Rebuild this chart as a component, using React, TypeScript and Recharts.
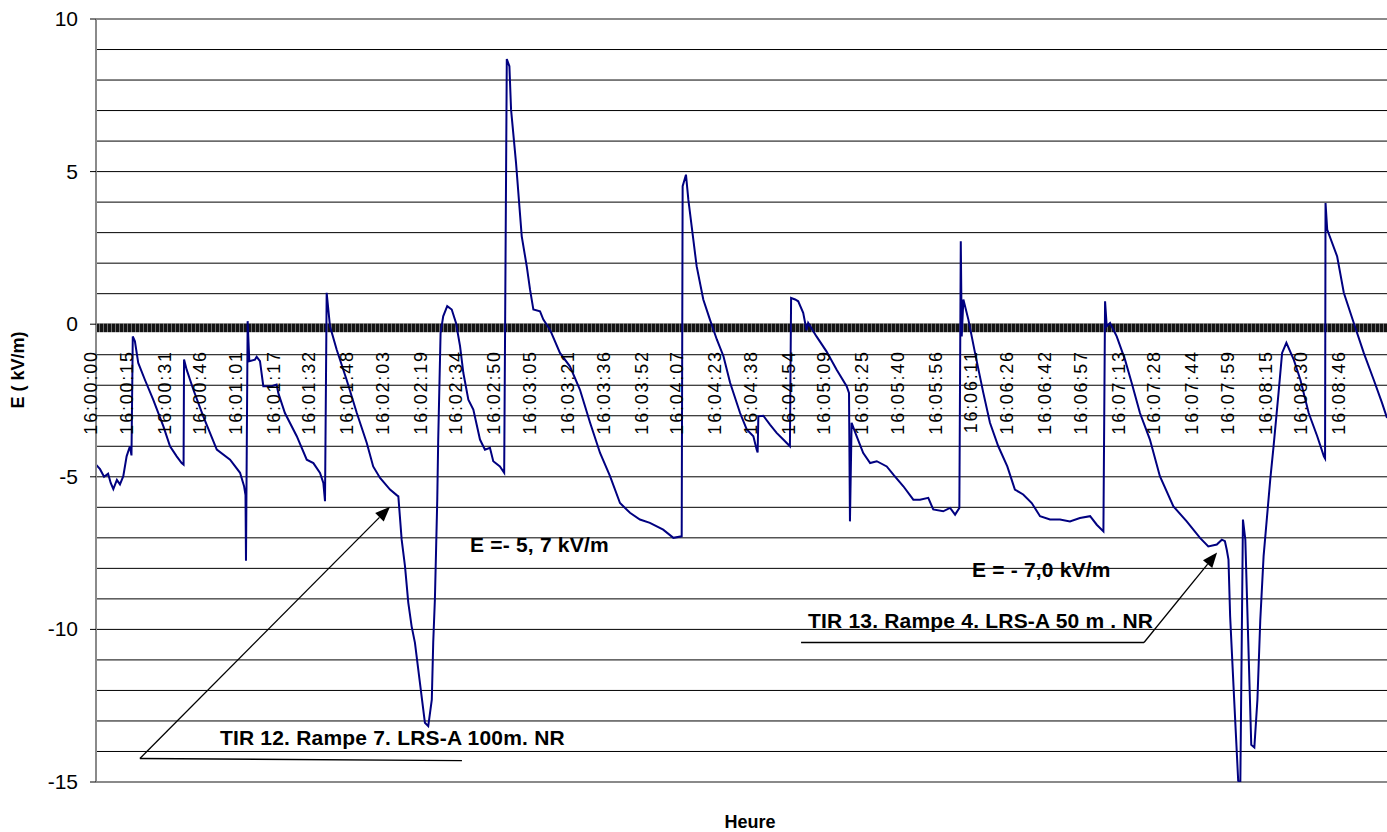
import React from 'react';
import { LineChart, Line, XAxis, YAxis, CartesianGrid, ReferenceLine, ReferenceDot } from 'recharts';

// seconds after 16:00:00
const seconds = [
  0, 1.7, 3.4, 5.1, 6.2, 7.3, 8.8, 10.1, 11.5, 12.9, 14.3, 14.95, 15.5, 16.4, 17.8, 20.6, 24.1, 28.4, 31.2, 34.0,
  36.1, 36.9, 37.1, 38.2, 41.0, 45.2, 50.9, 56.5, 60.7, 62.4, 63.0, 63.2, 63.9, 64.6, 67.0, 67.7, 69.1, 70.5, 74.0, 76.1,
  76.8, 79.6, 84.6, 88.8, 91.6, 94.4, 95.8, 96.5, 97.2, 98.6, 101.4, 105.6, 109.9, 114.1, 116.8, 119.7, 123.9, 126.7, 127.4, 128.8,
  130.2, 131.6, 133.0, 134.4, 136.5, 138.6, 140.0, 141.5, 142.1, 142.8, 143.3, 143.8, 144.2, 145.2, 146.3, 148.0, 149.9, 151.7, 153.4, 154.8,
  156.9, 159.0, 161.8, 163.9, 166.0, 167.4, 170.2, 172.0, 173.1, 174.2, 174.9, 177.0, 179.4, 181.5, 182.9, 184.3, 187.1, 188.5, 191.3, 195.5,
  199.7, 203.9, 208.2, 212.4, 216.6, 220.8, 225.0, 229.2, 233.4, 239.0, 243.3, 246.8, 247.2, 248.6, 249.6, 251.7, 253.1, 255.9, 258.7, 261.6,
  264.4, 267.2, 271.4, 274.2, 277.0, 278.4, 278.8, 279.1, 281.2, 284.0, 286.8, 289.6, 292.4, 292.9, 294.6, 295.9, 298.0, 299.4, 300.1, 303.6,
  307.8, 312.1, 316.3, 317.3, 317.7, 318.4, 320.5, 323.3, 326.2, 329.0, 333.2, 336.0, 340.2, 344.4, 347.2, 350.7, 352.8, 357.0, 359.9, 362.0,
  363.8, 364.4, 364.8, 365.5, 367.6, 370.4, 373.9, 376.7, 380.2, 384.0, 387.2, 390.7, 394.3, 397.8, 402.0, 406.2, 410.4, 414.6, 418.9, 421.7,
  424.5, 425.2, 425.9, 427.3, 430.1, 433.6, 436.4, 439.9, 444.1, 448.3, 454.0, 459.6, 465.2, 468.7, 472.3, 474.4, 475.7, 476.5, 477.2, 477.9,
  479.6, 481.3, 482.2, 483.3, 484.3, 485.5, 486.8, 488.1, 489.4, 490.6, 492.0, 494.8, 496.2, 498.3, 499.8, 501.6, 504.7, 507.5, 511.0, 514.6,
  517.4, 517.9, 518.1, 518.8, 523.0, 525.8, 530.0, 534.2, 538.4, 541.9, 544.0,
];

// E (kV/m)
const field = [
  -4.6, -4.75, -5.0, -4.9, -5.2, -5.4, -5.1, -5.25, -4.98, -4.33, -4.0, -4.3, -0.4, -0.56, -1.27, -1.82, -2.47, -3.35, -4.0, -4.33,
  -4.55, -4.6, -1.16, -1.49, -2.14, -3.02, -4.11, -4.44, -4.87, -5.31, -5.6, -7.75, 0.1, -1.21, -1.16, -1.07, -1.21, -2.03, -2.03, -1.98,
  -2.25, -2.91, -3.67, -4.44, -4.55, -4.87, -5.2, -5.8, 1.03, -0.07, -0.83, -1.82, -2.91, -3.89, -4.66, -5.04, -5.42, -5.6, -5.64, -7.06,
  -7.93, -9.13, -9.9, -10.44, -11.75, -13.06, -13.17, -12.3, -10.43, -9.02, -7.4, -5.75, -3.78, -0.29, 0.26, 0.59, 0.48, 0.04, -0.72, -1.6,
  -2.47, -2.8, -3.78, -4.11, -4.05, -4.49, -4.66, -4.87, 8.69, 8.45, 7.03, 5.28, 2.88, 1.9, 1.13, 0.48, 0.42, 0.15, -0.18, -0.94,
  -1.38, -2.14, -3.23, -4.22, -4.98, -5.86, -6.18, -6.4, -6.51, -6.73, -7.0, -6.95, 4.52, 4.9, 4.08, 2.77, 1.9, 0.81, 0.15, -0.5,
  -1.05, -1.92, -2.91, -3.45, -3.67, -4.11, -4.2, -3.02, -3.0, -3.29, -3.56, -3.78, -4.0, 0.86, 0.81, 0.75, 0.37, -0.2, 0.04, -0.4,
  -0.89, -1.49, -2.03, -2.25, -6.46, -3.23, -3.67, -4.22, -4.55, -4.49, -4.66, -4.93, -5.31, -5.75, -5.75, -5.69, -6.07, -6.13, -6.02, -6.24,
  -6.02, 2.72, -0.4, 0.81, 0.15, -0.94, -2.25, -3.23, -4.0, -4.66, -5.42, -5.58, -5.86, -6.29, -6.4, -6.4, -6.46, -6.35, -6.29, -6.57,
  -6.79, 0.75, -0.07, 0.04, -0.4, -1.16, -1.92, -2.91, -3.78, -4.98, -5.97, -6.46, -7.0, -7.28, -7.22, -7.06, -7.11, -7.4, -7.71, -9.57,
  -12.3, -14.96, -15.0, -6.4, -7.06, -10.3, -13.78, -13.87, -12.3, -9.7, -7.6, -5.09, -4.0, -2.25, -0.94, -0.61, -1.16, -1.82, -2.91, -3.67,
  -4.33, -4.4, 3.97, 3.1, 2.22, 1.03, 0.04, -0.94, -1.82, -2.58, -3.07,
];

const heureLabels = [
  '16:00:00', '16:00:15', '16:00:31', '16:00:46', '16:01:01', '16:01:17', '16:01:32', '16:01:48', '16:02:03',
  '16:02:19', '16:02:34', '16:02:50', '16:03:05', '16:03:21', '16:03:36', '16:03:52', '16:04:07', '16:04:23',
  '16:04:38', '16:04:54', '16:05:09', '16:05:25', '16:05:40', '16:05:56', '16:06:11', '16:06:26', '16:06:42',
  '16:06:57', '16:07:13', '16:07:28', '16:07:44', '16:07:59', '16:08:15', '16:08:30', '16:08:46',
];

const yTicks = [-15, -14, -13, -12, -11, -10, -9, -8, -7, -6, -5, -4, -3, -2, -1, 0, 1, 2, 3, 4, 5, 6, 7, 8, 9, 10];

// annotation texts: [seconds, kV/m, text]
const notes: [number, number, string][] = [
  [157.6, -7.22, 'E =- 5, 7 kV/m'],
  [52.2, -13.55, 'TIR 12. Rampe 7. LRS-A 100m. NR'],
  [369.1, -8.07, 'E = - 7,0 kV/m'],
  [300.0, -9.71, 'TIR 13. Rampe 4. LRS-A 50 m . NR'],
];

// leader lines: [t1, e1, t2, e2, arrow]
const leaders: [number, number, number, number, boolean][] = [
  [18.5, -14.23, 154.2, -14.3, false],
  [18.5, -14.23, 123.9, -5.98, true],
  [297.1, -10.43, 441.6, -10.43, false],
  [441.6, -10.43, 472.4, -7.48, true],
];

const data = seconds.map((t, i) => ({ t, e: field[i] }));

const toSec = (s: string) => {
  const [h, m, sec] = s.split(':').map(Number);
  return (h - 16) * 3600 + m * 60 + sec;
};

const FONT = '"Liberation Sans", Arial, sans-serif';

const YTick = (props: any) => {
  const { x, y, payload } = props;
  if (payload.value % 5 !== 0) return <g />;
  return (
    <g>
      <line x1={x + 12} x2={x + 18} y1={y} y2={y} stroke="#000" strokeWidth={1} />
      <text x={x} y={y} dy={7} textAnchor="end" fontSize={21} fill="#000" fontFamily={FONT}>
        {payload.value}
      </text>
    </g>
  );
};

const ZeroBand = (props: any) => {
  const { x1, x2, y1 } = props;
  return <rect x={x1} y={y1 - 0.5} width={x2 - x1} height={8.5} fill="url(#tickStripes)" />;
};

const Leader = (arrow: boolean) => (props: any) => {
  const { x1, y1, x2, y2 } = props;
  if (!arrow) return <line x1={x1} y1={y1} x2={x2} y2={y2} stroke="#000" strokeWidth={1.3} />;
  const a = Math.atan2(y2 - y1, x2 - x1);
  const len = 15;
  const half = 6;
  const bx = x2 - len * Math.cos(a);
  const by = y2 - len * Math.sin(a);
  const pts = `${x2},${y2} ${bx + half * Math.sin(a)},${by - half * Math.cos(a)} ${bx - half * Math.sin(a)},${by + half * Math.cos(a)}`;
  return (
    <g>
      <line x1={x1} y1={y1} x2={bx} y2={by} stroke="#000" strokeWidth={1.3} />
      <polygon points={pts} fill="#000" />
    </g>
  );
};

const TimeLabel = (text: string) => (p: any) => {
  const vb = p.viewBox || {};
  const cx = vb.x + (vb.width || 0) / 2 + 1;
  const top = vb.y + (vb.height || 0) / 2 + 26;
  return (
    <text
      x={cx}
      y={top}
      transform={`rotate(-90, ${cx}, ${top})`}
      textAnchor="end"
      fontSize={18}
      letterSpacing={1.8}
      fill="#000"
      fontFamily={FONT}
    >
      {text}
    </text>
  );
};

const NoteLabel = (text: string) => (p: any) => {
  const vb = p.viewBox || {};
  const x = vb.x + (vb.width || 0) / 2;
  const y = vb.y + (vb.height || 0) / 2;
  return (
    <text x={x} y={y} dy={7} textAnchor="start" fontSize={21} fontWeight="bold" letterSpacing={0.2} fill="#000" fontFamily={FONT}>
      {text}
    </text>
  );
};

export default function App() {
  return (
    <div style={{ position: 'absolute', left: 0, top: 0, width: 1387, height: 832, background: '#fff', fontFamily: FONT }}>
      <LineChart width={1387} height={832} data={data} margin={{ top: 19, right: 0, bottom: 50, left: 0 }}>
        <defs>
          <pattern id="tickStripes" width="4" height="10" patternUnits="userSpaceOnUse">
            <rect x="0" y="0" width="4" height="10" fill="#707070" />
            <rect x="0" y="0" width="3" height="10" fill="#141414" />
          </pattern>
        </defs>
        <CartesianGrid vertical={false} stroke="#000" strokeWidth={1} />
        <XAxis dataKey="t" type="number" domain={[0, 544]} hide allowDataOverflow />
        <YAxis
          type="number"
          domain={[-15, 10]}
          ticks={yTicks}
          interval={0}
          width={96}
          tickSize={6}
          tickMargin={12}
          tickLine={false}
          axisLine={{ stroke: '#8a8a8a', strokeWidth: 2 }}
          tick={<YTick />}
          allowDataOverflow
        />
        <ReferenceLine y={10} stroke="#8a8a8a" strokeWidth={2} />
        <ReferenceLine y={-15} stroke="#8a8a8a" strokeWidth={2} />
        <ReferenceLine y={0} shape={<ZeroBand />} />
        {heureLabels.map((lbl) => (
          <ReferenceDot
            key={lbl}
            x={toSec(lbl)}
            y={0}
            r={1}
            fill="none"
            stroke="none"
            label={{ content: TimeLabel(lbl) }}
          />
        ))}
        <Line
          type="linear"
          dataKey="e"
          stroke="#000080"
          strokeWidth={2}
          dot={false}
          isAnimationActive={false}
        />
        {leaders.map(([t1, e1, t2, e2, arrow], i) => (
          <ReferenceLine
            key={'l' + i}
            segment={[{ x: t1, y: e1 }, { x: t2, y: e2 }]}
            shape={Leader(arrow)}
            ifOverflow="visible"
          />
        ))}
        {notes.map(([t, e, txt]) => (
          <ReferenceDot
            key={txt}
            x={t}
            y={e}
            r={1}
            fill="none"
            stroke="none"
            label={{ content: NoteLabel(txt) }}
          />
        ))}
        <text x={18} y={370} dy={6} transform="rotate(-90, 18, 370)" textAnchor="middle" fontSize={18} fontWeight="bold" fill="#000" fontFamily={FONT}>
          E ( kV/m)
        </text>
        <text x={750} y={822} dy={6} textAnchor="middle" fontSize={18} fontWeight="bold" fill="#000" fontFamily={FONT}>
          Heure
        </text>
      </LineChart>
    </div>
  );
}
